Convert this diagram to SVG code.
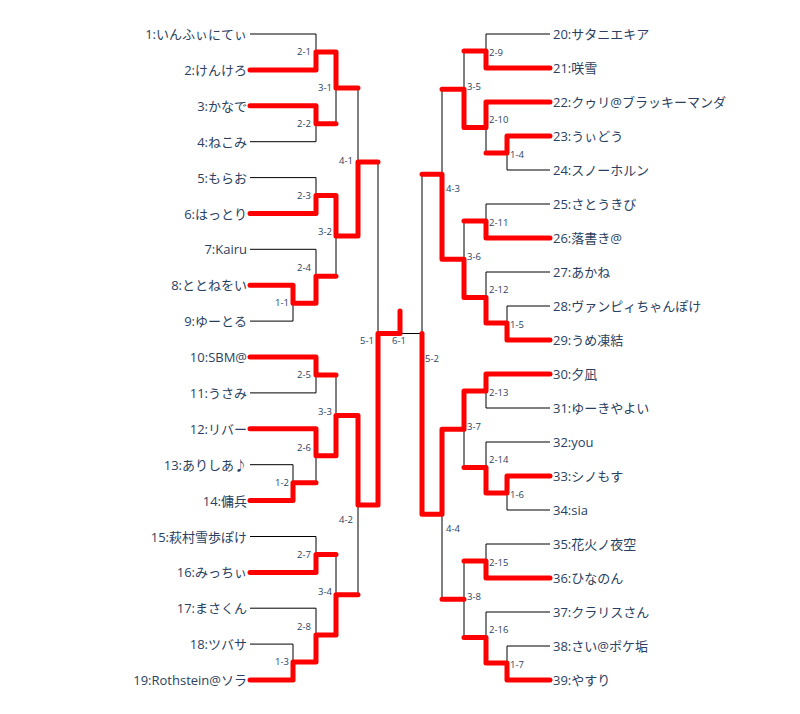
<svg xmlns="http://www.w3.org/2000/svg" width="800" height="714" viewBox="0 0 800 714">
<style>
.b{stroke:#000;stroke-width:1;fill:none}
.r{stroke:#ff0000;stroke-width:5;fill:none;stroke-linejoin:round;stroke-linecap:round}
.p{font-family:"Open Sans","Noto Sans CJK JP",sans-serif;font-size:13px;fill:#2a3f5f;dominant-baseline:central}
.m{font-family:"Open Sans","Noto Sans CJK JP",sans-serif;font-size:9.5px;fill:#2a3f5f;dominant-baseline:central}
.L{text-anchor:end}
</style>
<rect width="800" height="714" fill="#fff"/>
<g id="connectors">
<!-- black: losers and lost-vertical parts -->
<path class="b" d="M250 34H316V52 M250 141.7H316V123.8 M250 177.6H316V195.5 M250 249.3H316V276.2 M250 321.1H293V303.2 M250 392.9H316V375 M293 482.7H316V455.7 M250 464.7H293V482.7 M250 536.5H316V554.4 M250 608.2H316V635 M250 644.1H293V662
M316 123.8H336V87.9 M316 276.2H336V235.9 M316 375H336V415.4 M316 554.4H336V594.7 M336 87.9H358V161.9 M358 161.9H378V333.5 M336 594.7H358V505 M378 333.5H422"/>
<path class="b" d="M550 34H486V51 M507 153H486V127.5 M550 170H507V153 M550 204H486V221 M550 272H486V297.5 M550 306H507V323 M550 408H486V391 M550 442H486V467.5 M550 510H507V493 M550 544H486V561 M550 612H486V637.5 M550 646H507V663
M486 51H464V89.25 M486 221H464V259.25 M486 467.5H464V429.25 M486 561H464V599.25 M486 637.5H464V599.25 M464 89.25H442V174.25 M464 599.25H442V514.25 M442 174.25H422V333.5"/>
<!-- red: winners -->
<path class="r" d="M250 69.9H316V52 M250 105.8H316V123.8 M250 213.5H316V195.5 M293 303.2H316V276.2 M250 285.2H293V303.2 M250 357H316V375 M250 428.8H316V455.7 M293 482.7H316 M250 500.6H293V482.7 M250 572.4H316V554.4 M293 662H316V635 M250 680H293V662
M316 52H336V87.9 M316 123.8H336 M316 195.5H336V235.9 M316 276.2H336 M316 375H336 M316 455.7H336V415.4 M316 554.4H336 M316 635H336V594.7
M336 87.9H358 M336 235.9H358V161.9 M336 415.4H358V505 M336 594.7H358 M358 161.9H378 M358 505H378V333.5 M378 333.5H400V311"/>
<path class="r" d="M550 68H486V51 M550 102H486V127.5 M507 153H486 M550 136H507V153 M550 238H486V221 M507 323H486V297.5 M550 340H507V323 M550 374H486V391 M507 493H486V467.5 M550 476H507V493 M550 578H486V561 M507 663H486V637.5 M550 680H507V663
M486 51H464 M486 127.5H464V89.25 M486 221H464 M486 297.5H464V259.25 M486 391H464V429.25 M486 467.5H464 M486 561H464 M486 637.5H464
M464 89.25H442 M464 259.25H442V174.25 M464 429.25H442V514.25 M464 599.25H442 M442 174.25H422 M442 514.25H422V333.5"/>
</g>
<g id="players-left" class="p L">
<text id="p1" class="p L" x="247" y="34">1:いんふぃにてぃ</text>
<text id="p2" class="p L" x="247" y="69.9">2:けんけろ</text>
<text id="p3" class="p L" x="247" y="105.8">3:かなで</text>
<text id="p4" class="p L" x="247" y="141.7">4:ねこみ</text>
<text id="p5" class="p L" x="247" y="177.6">5:もらお</text>
<text id="p6" class="p L" x="247" y="213.5">6:はっとり</text>
<text id="p7" class="p L" x="247" y="249.3">7:Kairu</text>
<text id="p8" class="p L" x="247" y="285.2">8:ととねをい</text>
<text id="p9" class="p L" x="247" y="321.1">9:ゆーとる</text>
<text id="p10" class="p L" x="247" y="357">10:SBM@</text>
<text id="p11" class="p L" x="247" y="392.9">11:うさみ</text>
<text id="p12" class="p L" x="247" y="428.8">12:リバー</text>
<text id="p13" class="p L" x="247" y="464.7">13:ありしあ♪</text>
<text id="p14" class="p L" x="247" y="500.6">14:傭兵</text>
<text id="p15" class="p L" x="247" y="536.5">15:萩村雪歩ぽけ</text>
<text id="p16" class="p L" x="247" y="572.4">16:みっちぃ</text>
<text id="p17" class="p L" x="247" y="608.2">17:まさくん</text>
<text id="p18" class="p L" x="247" y="644.1">18:ツバサ</text>
<text id="p19" class="p L" x="247" y="680">19:Rothstein@ソラ</text>
</g>
<g id="players-right">
<text id="p20" class="p" x="553" y="34">20:サタニエキア</text>
<text id="p21" class="p" x="553" y="68">21:咲雪</text>
<text id="p22" class="p" x="553" y="102">22:クゥリ@ブラッキーマンダ</text>
<text id="p23" class="p" x="553" y="136">23:うぃどう</text>
<text id="p24" class="p" x="553" y="170">24:スノーホルン</text>
<text id="p25" class="p" x="553" y="204">25:さとうきび</text>
<text id="p26" class="p" x="553" y="238">26:落書き@</text>
<text id="p27" class="p" x="553" y="272">27:あかね</text>
<text id="p28" class="p" x="553" y="306">28:ヴァンピィちゃんぽけ</text>
<text id="p29" class="p" x="553" y="340">29:うめ凍結</text>
<text id="p30" class="p" x="553" y="374">30:夕凪</text>
<text id="p31" class="p" x="553" y="408">31:ゆーきやよい</text>
<text id="p32" class="p" x="553" y="442">32:you</text>
<text id="p33" class="p" x="553" y="476">33:シノもす</text>
<text id="p34" class="p" x="553" y="510">34:sia</text>
<text id="p35" class="p" x="553" y="544">35:花火ノ夜空</text>
<text id="p36" class="p" x="553" y="578">36:ひなのん</text>
<text id="p37" class="p" x="553" y="612">37:クラリスさん</text>
<text id="p38" class="p" x="553" y="646">38:さい@ポケ垢</text>
<text id="p39" class="p" x="553" y="680">39:やすり</text>
</g>
<g id="matches-left">
<text id="m1-1" class="m L" x="289" y="302">1-1</text>
<text id="m1-2" class="m L" x="289" y="482">1-2</text>
<text id="m1-3" class="m L" x="289" y="661">1-3</text>
<text id="m2-1" class="m L" x="311" y="51">2-1</text>
<text id="m2-2" class="m L" x="311" y="123">2-2</text>
<text id="m2-3" class="m L" x="311" y="195">2-3</text>
<text id="m2-4" class="m L" x="311" y="267">2-4</text>
<text id="m2-5" class="m L" x="311" y="374">2-5</text>
<text id="m2-6" class="m L" x="311" y="447">2-6</text>
<text id="m2-7" class="m L" x="311" y="554">2-7</text>
<text id="m2-8" class="m L" x="311" y="626">2-8</text>
<text id="m3-1" class="m L" x="332" y="87">3-1</text>
<text id="m3-2" class="m L" x="332" y="231">3-2</text>
<text id="m3-3" class="m L" x="332" y="411">3-3</text>
<text id="m3-4" class="m L" x="332" y="591">3-4</text>
<text id="m4-1" class="m L" x="353" y="160">4-1</text>
<text id="m4-2" class="m L" x="353" y="519">4-2</text>
<text id="m5-1" class="m L" x="374" y="340">5-1</text>
</g>
<g id="match-final"><text id="m6-1" class="m" x="392" y="340">6-1</text></g>
<g id="matches-right">
<text id="m1-4" class="m" x="510" y="154">1-4</text>
<text id="m1-5" class="m" x="510" y="324">1-5</text>
<text id="m1-6" class="m" x="510" y="494">1-6</text>
<text id="m1-7" class="m" x="510" y="664">1-7</text>
<text id="m2-9" class="m" x="489" y="52">2-9</text>
<text id="m2-10" class="m" x="489" y="119">2-10</text>
<text id="m2-11" class="m" x="489" y="222">2-11</text>
<text id="m2-12" class="m" x="489" y="289">2-12</text>
<text id="m2-13" class="m" x="489" y="392">2-13</text>
<text id="m2-14" class="m" x="489" y="459">2-14</text>
<text id="m2-15" class="m" x="489" y="562">2-15</text>
<text id="m2-16" class="m" x="489" y="629">2-16</text>
<text id="m3-5" class="m" x="467" y="86">3-5</text>
<text id="m3-6" class="m" x="467" y="256">3-6</text>
<text id="m3-7" class="m" x="467" y="426">3-7</text>
<text id="m3-8" class="m" x="467" y="596">3-8</text>
<text id="m4-3" class="m" x="446" y="188">4-3</text>
<text id="m4-4" class="m" x="446" y="528">4-4</text>
<text id="m5-2" class="m" x="425" y="358">5-2</text>
</g>
</svg>
